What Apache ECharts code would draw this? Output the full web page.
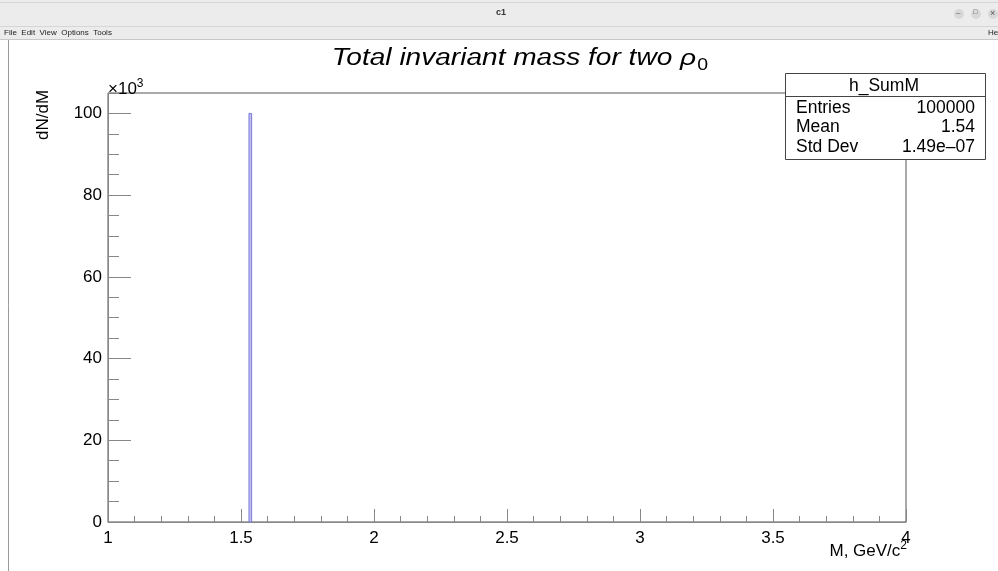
<!DOCTYPE html>
<html>
<head>
<meta charset="utf-8">
<title>c1</title>
<script src="https://cdn.jsdelivr.net/npm/echarts@6/dist/echarts.min.js"></script>
<style>
  html, body { margin: 0; padding: 0; background: #ffffff; }
  #chart { width: 998px; height: 571px; }
</style>
</head>
<body>
<div id="chart"></div>
<script>
// histogram h_SumM: only the non-empty bin (bin width 0.01 GeV/c^2)
const binLow = [1.53];
const binHigh = [1.54];
const binCounts = [100000];

// statistics box
const statLabels = ['Entries', 'Mean', 'Std Dev'];
const statValues = ['100000', '1.54', '1.49e\u201307'];

const xTicks = { min: 1, max: 4, major: 0.5 };
const yTicks = { min: 0, max: 105000, major: 20000, minor: 5000 };

const font = '"Liberation Sans", Arial, sans-serif';
const chart = echarts.init(document.getElementById('chart'));

const histData = binLow.map((lo, i) => [lo, binHigh[i], binCounts[i]]);

// stats box texts
const statGraphics = [];
statLabels.forEach((lab, i) => {
  const y = 108 + i * 19.5;
  statGraphics.push({
    type: 'text', x: 796, y: y, z: 11,
    style: { text: lab, font: '17.5px ' + font, fill: '#000', verticalAlign: 'middle' }
  });
  statGraphics.push({
    type: 'text', x: 975, y: y, z: 11,
    style: { text: statValues[i], font: '17.5px ' + font, fill: '#000', align: 'right', verticalAlign: 'middle' }
  });
});

const option = {
  backgroundColor: '#ffffff',
  animation: false,
  grid: {
    left: 108, right: 92, top: 93, bottom: 49,
    show: true, borderColor: '#555', borderWidth: 1, backgroundColor: 'transparent'
  },
  xAxis: {
    type: 'value',
    min: xTicks.min, max: xTicks.max, interval: xTicks.major,
    axisLine: { lineStyle: { color: '#888', width: 1 } },
    axisTick: { inside: true, length: 13, lineStyle: { color: '#888' } },
    minorTick: { show: true, splitNumber: 5, length: 6, lineStyle: { color: '#888' } },
    splitLine: { show: false },
    axisLabel: { margin: 8, fontFamily: font, fontSize: 17, color: '#000' }
  },
  yAxis: [
    {
      type: 'value',
      min: yTicks.min, max: yTicks.max, interval: yTicks.major,
      axisLine: { show: true, lineStyle: { color: '#888', width: 1 } },
      axisTick: { show: true, inside: true, length: 23, lineStyle: { color: '#888' } },
      splitLine: { show: false },
      axisLabel: {
        showMaxLabel: false, margin: 6, fontFamily: font, fontSize: 17, color: '#000',
        formatter: v => (v % yTicks.major === 0 ? String(v / 1000) : '')
      }
    },
    {
      type: 'value', position: 'left',
      min: yTicks.min, max: yTicks.max, interval: yTicks.minor,
      axisLine: { show: false },
      axisTick: { show: true, inside: true, length: 11, lineStyle: { color: '#888' } },
      splitLine: { show: false },
      axisLabel: { show: false }
    }
  ],
  series: [
    {
      type: 'custom',
      name: 'h_SumM',
      data: histData,
      encode: { x: [0, 1], y: 2 },
      renderItem: (params, api) => {
        const p0 = api.coord([api.value(0), api.value(2)]);
        const p1 = api.coord([api.value(1), 0]);
        return {
          type: 'rect',
          shape: { x: p0[0], y: p0[1], width: p1[0] - p0[0], height: p1[1] - p0[1] },
          style: { fill: '#bfbff0', stroke: '#7a7ad8', lineWidth: 1 }
        };
      }
    }
  ],
  graphic: [
    // window chrome
    { type: 'rect', shape: { x: 0, y: 0, width: 998, height: 40 }, style: { fill: '#ececec' }, z: -1 },
    { type: 'line', shape: { x1: 0, y1: 26.5, x2: 998, y2: 26.5 }, style: { stroke: '#d6d6d6' } },
    { type: 'line', shape: { x1: 0, y1: 39.5, x2: 998, y2: 39.5 }, style: { stroke: '#c8c8c8' } },
    { type: 'line', shape: { x1: 0, y1: 2.5, x2: 998, y2: 2.5 }, style: { stroke: '#d6d6d6' } },
    { type: 'text', left: 496, top: 8, style: { text: 'c1', font: 'bold 9px ' + font, fill: '#333' } },
    { type: 'text', left: 4, top: 29, style: { text: 'File  Edit  View  Options  Tools', font: '8px ' + font, fill: '#222' } },
    { type: 'text', left: 988, top: 29, style: { text: 'He', font: '8px ' + font, fill: '#222' } },
    { type: 'circle', shape: { cx: 959, cy: 14, r: 5 }, style: { fill: '#d8d8d8' } },
    { type: 'circle', shape: { cx: 976, cy: 14, r: 5 }, style: { fill: '#d8d8d8' } },
    { type: 'circle', shape: { cx: 993, cy: 14, r: 5 }, style: { fill: '#d8d8d8' } },
    { type: 'text', left: 956, top: 9, style: { text: '\u2013', font: '8px ' + font, fill: '#555' } },
    { type: 'text', left: 973, top: 9, style: { text: '\u25a1', font: '7px ' + font, fill: '#555' } },
    { type: 'text', left: 990, top: 9, style: { text: '\u00d7', font: '9px ' + font, fill: '#555' } },
    { type: 'line', shape: { x1: 8.5, y1: 40, x2: 8.5, y2: 571 }, style: { stroke: '#999' } },
    // title (the ROOT text is drawn wider than the font's natural width)
    {
      type: 'text', x: 520, y: 59, scaleX: 1.22,
      style: {
        text: 'Total invariant mass for two \u03c1{sub|0}',
        font: 'italic 23px ' + font, fill: '#000', align: 'center', verticalAlign: 'middle',
        rich: { sub: { fontFamily: font, fontSize: 16, fontStyle: 'normal', fill: '#000', padding: [13, 0, 0, 1] } }
      }
    },
    // axis titles and exponent
    {
      type: 'text', left: 108, top: 78,
      style: {
        text: '\u00d710{sup|3}', font: '17px ' + font, fill: '#000',
        rich: { sup: { fontSize: 12, fontFamily: font, padding: [0, 0, 10, 0] } }
      }
    },
    {
      type: 'text', x: 35, y: 140, rotation: Math.PI / 2,
      style: { text: 'dN/dM', font: '17px ' + font, fill: '#000' }
    },
    {
      type: 'text', right: 998 - 907, top: 540,
      style: {
        text: 'M, GeV/c{sup|2}', font: '17px ' + font, fill: '#000', align: 'right',
        rich: { sup: { fontSize: 12, fontFamily: font, padding: [0, 0, 10, 0] } }
      }
    },
    // stats box
    { type: 'rect', shape: { x: 785.5, y: 73.5, width: 200, height: 86 }, style: { fill: '#fff', stroke: '#444', lineWidth: 1 }, z: 10 },
    { type: 'line', shape: { x1: 785.5, y1: 96.5, x2: 985.5, y2: 96.5 }, style: { stroke: '#444' }, z: 10 },
    { type: 'text', x: 884, y: 86, z: 11, style: { text: 'h_SumM', font: '17.5px ' + font, fill: '#000', align: 'center', verticalAlign: 'middle' } },
    ...statGraphics
  ]
};

chart.setOption(option);
</script>
</body>
</html>
